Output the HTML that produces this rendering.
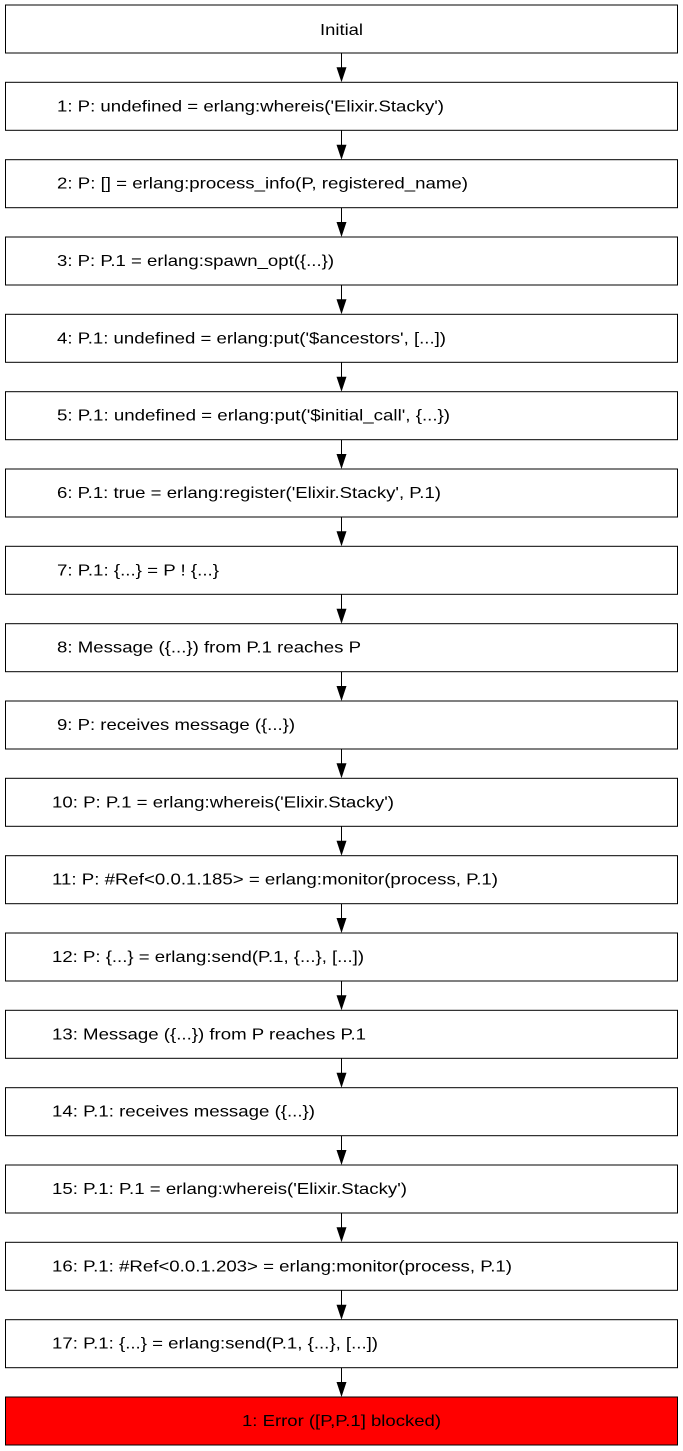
<!DOCTYPE html>
<html><head><meta charset="utf-8"><style>html,body{margin:0;padding:0;background:#fff}svg{display:block}text{font-family:"Liberation Sans",Arial,sans-serif;font-size:16px}</style></head>
<body>
<svg width="683" height="1451" viewBox="0 0 683 1451" xmlns="http://www.w3.org/2000/svg">
<g fill="#fff" stroke="#000" stroke-width="1">
<rect x="5.5" y="5" width="672" height="48"/>
<rect x="5.5" y="82.3" width="672" height="48"/>
<rect x="5.5" y="159.7" width="672" height="48"/>
<rect x="5.5" y="237" width="672" height="48"/>
<rect x="5.5" y="314.3" width="672" height="48"/>
<rect x="5.5" y="391.7" width="672" height="48"/>
<rect x="5.5" y="469" width="672" height="48"/>
<rect x="5.5" y="546.3" width="672" height="48"/>
<rect x="5.5" y="623.7" width="672" height="48"/>
<rect x="5.5" y="701" width="672" height="48"/>
<rect x="5.5" y="778.3" width="672" height="48"/>
<rect x="5.5" y="855.7" width="672" height="48"/>
<rect x="5.5" y="933" width="672" height="48"/>
<rect x="5.5" y="1010.3" width="672" height="48"/>
<rect x="5.5" y="1087.7" width="672" height="48"/>
<rect x="5.5" y="1165" width="672" height="48"/>
<rect x="5.5" y="1242.3" width="672" height="48"/>
<rect x="5.5" y="1319.7" width="672" height="48"/>
<rect x="5.5" y="1397" width="672" height="48" fill="#ff0000"/>
</g>
<g stroke="#000" stroke-width="1">
<line x1="341.5" y1="53" x2="341.5" y2="68"/>
<line x1="341.5" y1="130.3" x2="341.5" y2="145"/>
<line x1="341.5" y1="207.7" x2="341.5" y2="222"/>
<line x1="341.5" y1="285" x2="341.5" y2="300"/>
<line x1="341.5" y1="362.3" x2="341.5" y2="377"/>
<line x1="341.5" y1="439.7" x2="341.5" y2="454"/>
<line x1="341.5" y1="517" x2="341.5" y2="532"/>
<line x1="341.5" y1="594.3" x2="341.5" y2="609"/>
<line x1="341.5" y1="671.7" x2="341.5" y2="686"/>
<line x1="341.5" y1="749" x2="341.5" y2="764"/>
<line x1="341.5" y1="826.3" x2="341.5" y2="841"/>
<line x1="341.5" y1="903.7" x2="341.5" y2="918"/>
<line x1="341.5" y1="981" x2="341.5" y2="996"/>
<line x1="341.5" y1="1058.3" x2="341.5" y2="1073"/>
<line x1="341.5" y1="1135.7" x2="341.5" y2="1150"/>
<line x1="341.5" y1="1213" x2="341.5" y2="1228"/>
<line x1="341.5" y1="1290.3" x2="341.5" y2="1305"/>
<line x1="341.5" y1="1367.7" x2="341.5" y2="1382"/>
</g>
<g fill="#000">
<path d="M336.5,67.3 L346.5,67.3 L341.5,82.3 Z"/>
<path d="M336.5,144.7 L346.5,144.7 L341.5,159.7 Z"/>
<path d="M336.5,222 L346.5,222 L341.5,237 Z"/>
<path d="M336.5,299.3 L346.5,299.3 L341.5,314.3 Z"/>
<path d="M336.5,376.7 L346.5,376.7 L341.5,391.7 Z"/>
<path d="M336.5,454 L346.5,454 L341.5,469 Z"/>
<path d="M336.5,531.3 L346.5,531.3 L341.5,546.3 Z"/>
<path d="M336.5,608.7 L346.5,608.7 L341.5,623.7 Z"/>
<path d="M336.5,686 L346.5,686 L341.5,701 Z"/>
<path d="M336.5,763.3 L346.5,763.3 L341.5,778.3 Z"/>
<path d="M336.5,840.7 L346.5,840.7 L341.5,855.7 Z"/>
<path d="M336.5,918 L346.5,918 L341.5,933 Z"/>
<path d="M336.5,995.3 L346.5,995.3 L341.5,1010.3 Z"/>
<path d="M336.5,1072.7 L346.5,1072.7 L341.5,1087.7 Z"/>
<path d="M336.5,1150 L346.5,1150 L341.5,1165 Z"/>
<path d="M336.5,1227.3 L346.5,1227.3 L341.5,1242.3 Z"/>
<path d="M336.5,1304.7 L346.5,1304.7 L341.5,1319.7 Z"/>
<path d="M336.5,1382 L346.5,1382 L341.5,1397 Z"/>
</g>
<g fill="#000">
<text x="320" y="35" textLength="43" lengthAdjust="spacingAndGlyphs">Initial</text>
<text x="57" y="111.3" textLength="387" lengthAdjust="spacingAndGlyphs">1: P: undefined = erlang:whereis('Elixir.Stacky')</text>
<text x="57" y="188.7" textLength="411" lengthAdjust="spacingAndGlyphs">2: P: [] = erlang:process_info(P, registered_name)</text>
<text x="57" y="266" textLength="277" lengthAdjust="spacingAndGlyphs">3: P: P.1 = erlang:spawn_opt({...})</text>
<text x="57" y="343.3" textLength="389" lengthAdjust="spacingAndGlyphs">4: P.1: undefined = erlang:put('$ancestors', [...])</text>
<text x="57" y="420.7" textLength="393" lengthAdjust="spacingAndGlyphs">5: P.1: undefined = erlang:put('$initial_call', {...})</text>
<text x="57" y="498" textLength="384" lengthAdjust="spacingAndGlyphs">6: P.1: true = erlang:register('Elixir.Stacky', P.1)</text>
<text x="57" y="575.3" textLength="162" lengthAdjust="spacingAndGlyphs">7: P.1: {...} = P ! {...}</text>
<text x="57" y="652.7" textLength="304" lengthAdjust="spacingAndGlyphs">8: Message ({...}) from P.1 reaches P</text>
<text x="57" y="730" textLength="238" lengthAdjust="spacingAndGlyphs">9: P: receives message ({...})</text>
<text x="52" y="807.3" textLength="342" lengthAdjust="spacingAndGlyphs">10: P: P.1 = erlang:whereis('Elixir.Stacky')</text>
<text x="52" y="884.7" textLength="446" lengthAdjust="spacingAndGlyphs">11: P: #Ref&lt;0.0.1.185&gt; = erlang:monitor(process, P.1)</text>
<text x="52" y="962" textLength="312" lengthAdjust="spacingAndGlyphs">12: P: {...} = erlang:send(P.1, {...}, [...])</text>
<text x="52" y="1039.3" textLength="314" lengthAdjust="spacingAndGlyphs">13: Message ({...}) from P reaches P.1</text>
<text x="52" y="1116.7" textLength="263" lengthAdjust="spacingAndGlyphs">14: P.1: receives message ({...})</text>
<text x="52" y="1194" textLength="355" lengthAdjust="spacingAndGlyphs">15: P.1: P.1 = erlang:whereis('Elixir.Stacky')</text>
<text x="52" y="1271.3" textLength="460" lengthAdjust="spacingAndGlyphs">16: P.1: #Ref&lt;0.0.1.203&gt; = erlang:monitor(process, P.1)</text>
<text x="52" y="1348.7" textLength="326" lengthAdjust="spacingAndGlyphs">17: P.1: {...} = erlang:send(P.1, {...}, [...])</text>
<text x="242" y="1426" textLength="199" lengthAdjust="spacingAndGlyphs">1: Error ([P,P.1] blocked)</text>
</g>
</svg>
</body></html>
